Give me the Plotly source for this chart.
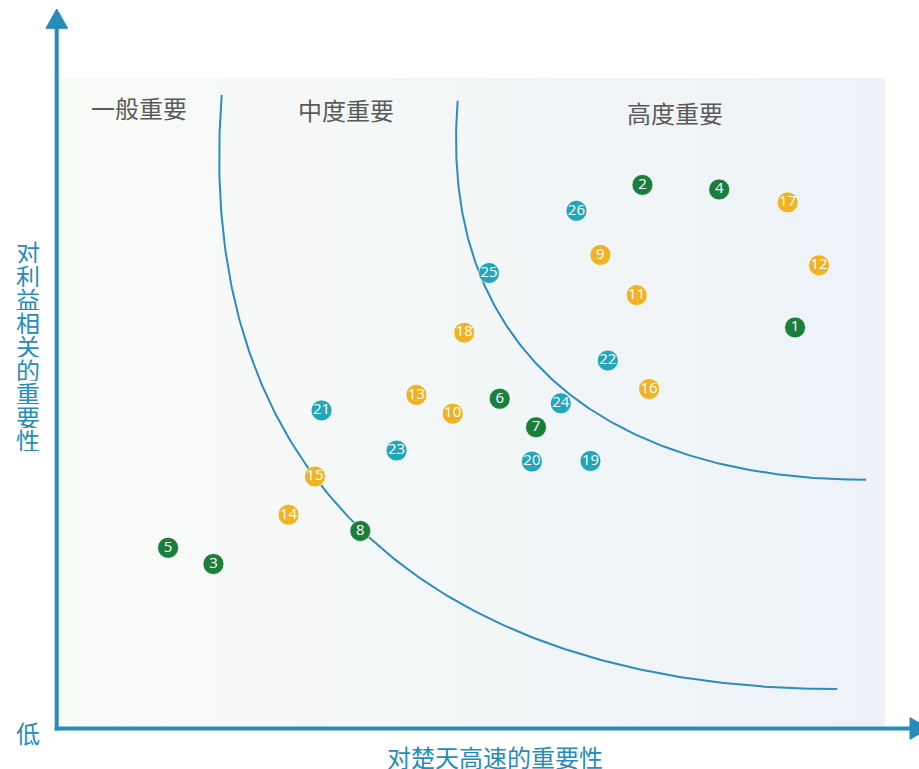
import numpy as np
import plotly.graph_objects as go

# ---- data (score scale 0-10) ----
ids = [str(i) for i in range(1, 27)]
x_vals = [8.91, 7.06, 1.86, 7.99, 1.31, 5.33, 5.77, 3.64, 6.55, 4.76, 6.99, 9.20, 4.32,
          2.77, 3.09, 7.14, 8.82, 4.90, 6.43, 5.72, 3.17, 6.64, 4.08, 6.07, 5.20, 6.26]
y_vals = [6.15, 8.35, 2.50, 8.28, 2.75, 5.05, 4.61, 3.01, 7.27, 4.82, 6.65, 7.11, 5.11,
          3.26, 3.85, 5.20, 8.08, 6.07, 4.09, 4.08, 4.87, 5.64, 4.25, 4.98, 6.99, 7.95]
groups = ["g", "g", "g", "g", "g", "g", "g", "g",
          "y", "y", "y", "y", "y", "y", "y", "y", "y", "y",
          "t", "t", "t", "t", "t", "t", "t", "t"]
group_colors = {"g": "#1b7e3c", "y": "#f0b324", "t": "#23a6b9"}

zone_labels = ["一般重要", "中度重要", "高度重要"]
zone_x = [0.96, 3.47, 7.45]
zone_y = [9.55, 9.52, 9.46]

x_title = "对楚天高速的重要性"
y_title = "对利益相关的重要性"
low_label = "低"

# boundary curves (cubic bezier control points, score units)
inner_curve = [(1.96, 9.74), (1.58, 3.49), (4.85, 0.57), (9.42, 0.57)]
outer_curve = [(4.82, 9.65), (4.57, 5.67), (6.75, 3.80), (9.77, 3.80)]

AXIS_COLOR = "#268cbc"
CURVE_COLOR = "#2a8cbf"
CJK = "Noto Sans CJK SC"
CJK_SIZE = 24

fig = go.Figure()

# gradient background panel
fig.add_trace(go.Scatter(
    x=[0, 10, 10, 0, 0], y=[0, 0, 10, 10, 0], mode="none", fill="toself",
    fillgradient=dict(type="horizontal",
                      colorscale=[[0, "#f9fbf7"], [1, "#edf2f8"]]),
    hoverinfo="skip", showlegend=False))


def bezier(ctrl, n=200):
    p = np.array(ctrl, dtype=float)
    t = np.linspace(0, 1, n)[:, None]
    pts = ((1 - t) ** 3) * p[0] + 3 * ((1 - t) ** 2) * t * p[1] \
        + 3 * (1 - t) * t ** 2 * p[2] + t ** 3 * p[3]
    return pts[:, 0], pts[:, 1]


for ctrl in (inner_curve, outer_curve):
    cx, cy = bezier(ctrl)
    fig.add_trace(go.Scatter(x=cx, y=cy, mode="lines",
                             line=dict(color=CURVE_COLOR, width=2),
                             hoverinfo="skip", showlegend=False))

# points
fig.add_trace(go.Scatter(
    x=x_vals, y=y_vals, mode="markers+text", text=ids,
    textposition="middle center",
    textfont=dict(family="Open Sans", size=15, color="white"),
    marker=dict(size=21, color=[group_colors[g] for g in groups],
                line=dict(width=1, color="rgba(255,255,255,0.7)")),
    hoverinfo="skip", showlegend=False, cliponaxis=False))

shapes = [
    # y axis line + arrow
    dict(type="line", xref="paper", yref="paper", x0=-0.004, x1=-0.004,
         y0=-0.0069, y1=1.078, line=dict(color=AXIS_COLOR, width=4), layer="above"),
    dict(type="path", xref="paper", yref="paper",
         path="M -0.0170,1.0767 L -0.004,1.1065 L 0.0093,1.0767 Z",
         fillcolor=AXIS_COLOR, line=dict(color=AXIS_COLOR, width=1), layer="above"),
    # x axis line + arrow
    dict(type="line", xref="paper", yref="paper", x0=-0.0064, x1=1.031,
         y0=-0.0039, y1=-0.0039, line=dict(color=AXIS_COLOR, width=4), layer="above"),
    dict(type="path", xref="paper", yref="paper",
         path="M 1.0303,0.0128 L 1.0533,-0.0039 L 1.0303,-0.0205 Z",
         fillcolor=AXIS_COLOR, line=dict(color=AXIS_COLOR, width=1), layer="above"),
]

annotations = []
for t, zx, zy in zip(zone_labels, zone_x, zone_y):
    annotations.append(dict(x=zx, y=zy, xref="x", yref="y", text=t, showarrow=False,
                            xanchor="center", yanchor="middle",
                            font=dict(family=CJK, size=CJK_SIZE, color="#5a5a5a")))

# vertical y title, one character per row
pitch = 23.5 / 648.0
top_center = (726 - 251.75) / 648.0
for i, ch in enumerate(y_title):
    annotations.append(dict(x=-0.039, y=top_center - i * pitch, xref="paper", yref="paper",
                            text=ch, showarrow=False, xanchor="center", yanchor="middle",
                            height=23,
                            font=dict(family=CJK, size=CJK_SIZE, color=AXIS_COLOR)))

annotations.append(dict(x=-0.0388, y=-0.0108, xref="paper", yref="paper", text=low_label,
                        showarrow=False, xanchor="center", yanchor="middle",
                        font=dict(family=CJK, size=CJK_SIZE, color=AXIS_COLOR)))
annotations.append(dict(x=0.527, y=-0.0463, xref="paper", yref="paper", text=x_title,
                        showarrow=False, xanchor="center", yanchor="middle",
                        height=26,
                        font=dict(family=CJK, size=CJK_SIZE, color=AXIS_COLOR)))

fig.update_layout(
    width=919, height=769,
    margin=dict(l=60, r=34, t=78, b=43),
    paper_bgcolor="white", plot_bgcolor="rgba(0,0,0,0)",
    xaxis=dict(range=[0, 10], showgrid=False, zeroline=False, showticklabels=False,
               showline=False, fixedrange=True),
    yaxis=dict(range=[0, 10], showgrid=False, zeroline=False, showticklabels=False,
               showline=False, fixedrange=True),
    shapes=shapes, annotations=annotations, showlegend=False,
)

fig.write_html("out.html", post_script="document.body.style.margin='0';",
               config={"displayModeBar": False})
